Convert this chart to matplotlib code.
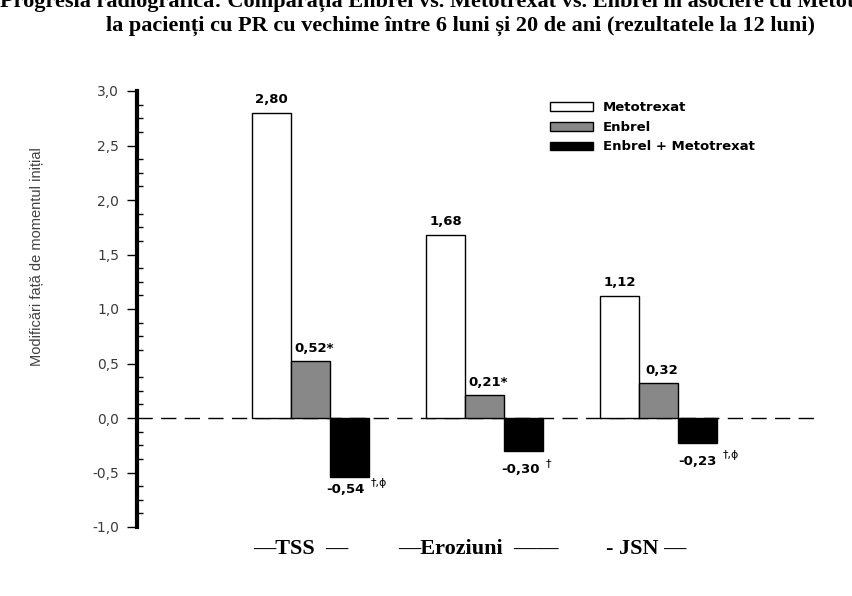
import matplotlib
matplotlib.use("Agg")
import matplotlib.pyplot as plt
from matplotlib.ticker import MultipleLocator, FuncFormatter
from matplotlib.patches import Patch
import numpy as np

categories = ["TSS", "Eroziuni", "JSN"]
series_names = ["Metotrexat", "Enbrel", "Enbrel + Metotrexat"]
metotrexat = [2.80, 1.68, 1.12]
enbrel = [0.52, 0.21, 0.32]
combo = [-0.54, -0.30, -0.23]
met_labels = ["2,80", "1,68", "1,12"]
enb_labels = ["0,52*", "0,21*", "0,32"]
com_labels = ["-0,54", "-0,30", "-0,23"]
com_marks = ["†,ɸ", "†", "†,ɸ"]
cat_labels = ["—TSS  —", "—Eroziuni  ——", "- JSN —"]
title_line1 = "Progresia radiografică: Comparația Enbrel vs. Metotrexat vs. Enbrel în asociere cu Metotrexat"
title_line2 = "la pacienți cu PR cu vechime între 6 luni și 20 de ani (rezultatele la 12 luni)"
ylabel = "Modificări față de momentul inițial"

fig = plt.figure(figsize=(8.52, 5.96), dpi=100)
ax = fig.add_axes([137/852, 1-527/596, (820-137)/852, (527-91)/596])

x = np.arange(len(categories))
w = 0.224
colors = ["white", "#888888", "black"]
ax.bar(x - w, metotrexat, w, color=colors[0], edgecolor="black", linewidth=1)
ax.bar(x, enbrel, w, color=colors[1], edgecolor="black", linewidth=1)
ax.bar(x + w, combo, w, color=colors[2], edgecolor="black", linewidth=1)

ax.set_xlim(-1.0, 2.93)
ax.set_ylim(-1.0, 3.0)
ax.axhline(0, color="black", linewidth=1, linestyle=(0, (11, 6)), zorder=0)

for s in ["top", "right", "bottom"]:
    ax.spines[s].set_visible(False)
ax.spines["left"].set_linewidth(3)
ax.set_xticks([])
ax.yaxis.set_major_locator(MultipleLocator(0.5))
ax.yaxis.set_minor_locator(MultipleLocator(0.125))
ax.yaxis.set_major_formatter(FuncFormatter(lambda v, p: f"{v:.1f}".replace(".", ",")))
ax.tick_params(axis="y", which="major", direction="out", length=7, width=1, pad=6,
               labelsize=10, labelcolor="#3a3a3a")
ax.tick_params(axis="y", which="minor", direction="in", length=4, width=1)
for t in ax.get_yticklabels():
    t.set_family("DejaVu Sans")

ax.set_ylabel(ylabel, family="Liberation Sans", fontsize=10.5, color="#404040")
ax.yaxis.set_label_coords(-0.136, 0.62)

lab_kw = dict(family="DejaVu Sans", fontweight="bold", fontsize=9.5, ha="center")
for i in range(len(categories)):
    ax.text(x[i] - w, metotrexat[i] + 0.06, met_labels[i], va="bottom", **lab_kw)
    ax.text(x[i] + 0.02, enbrel[i] + 0.06, enb_labels[i], va="bottom", **lab_kw)

com_x = [0.198, 0.207, 0.227]
com_y = [-0.66, -0.475, -0.40]
mark_y = [-0.60, -0.41, -0.34]
for i in range(len(categories)):
    ax.text(x[i] + com_x[i], com_y[i], com_labels[i], va="center", **lab_kw)
    ax.text(x[i] + com_x[i] + 0.145, mark_y[i], com_marks[i], va="center",
            family="DejaVu Sans", fontsize=8, ha="left")

cat_x = [-0.055, -0.034, -0.07]
for i in range(len(categories)):
    ax.text(x[i] + cat_x[i], -1.2, cat_labels[i], ha="center", va="center",
            family="Liberation Serif", fontweight="bold", fontsize=16, clip_on=False)

handles = [Patch(facecolor=c, edgecolor="black", linewidth=1) for c in colors]
leg = ax.legend(handles, series_names, loc="upper left", bbox_to_anchor=((545-137)/683, 1 - (96-91)/436),
                frameon=False, prop=dict(family="DejaVu Sans", weight="bold", size=9.5),
                handlelength=3.2, handleheight=0.62, labelspacing=0.5, handletextpad=0.8,
                borderaxespad=0)

fig.text(0.0, 1 - 2/596, title_line1, ha="left", va="center", family="Liberation Serif",
         fontweight="bold", fontsize=16)
fig.text(461/852, 1 - 26/596, title_line2, ha="center", va="center", family="Liberation Serif",
         fontweight="bold", fontsize=16)

fig.savefig("out.png", dpi=100)
